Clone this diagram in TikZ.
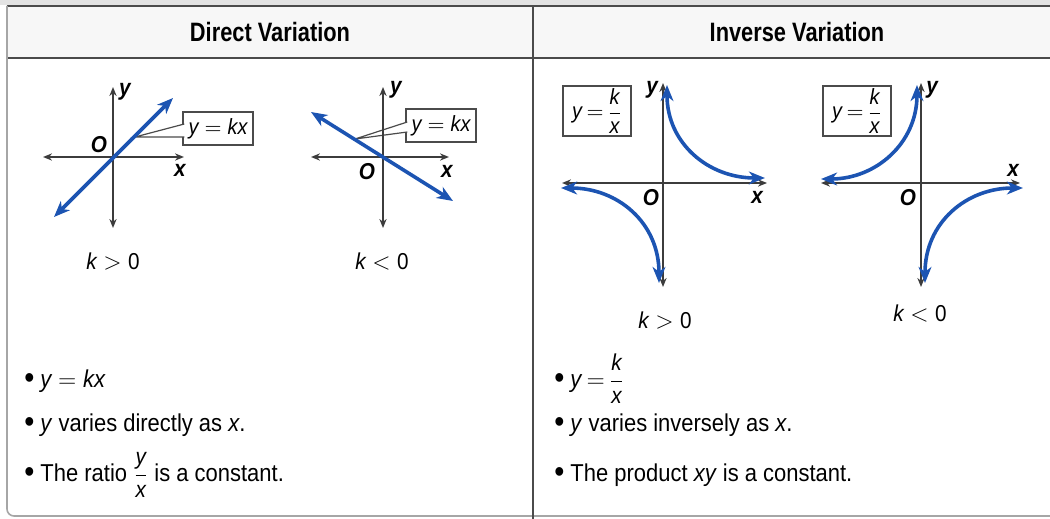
\documentclass[tikz,border=0pt]{standalone}
\usepackage{amsmath}
\usepackage{fontspec}
\setmainfont{Liberation Sans}[FakeStretch=0.9]
\newfontfamily\headfont{Liberation Sans}[FakeStretch=0.82]
\usetikzlibrary{arrows.meta, positioning, calc}
\definecolor{lineblue}{RGB}{28,84,178}
\definecolor{axisgray}{RGB}{60,60,60}
\definecolor{framegray}{RGB}{75,75,75}
\newcommand{\itemdot}{{\fontsize{16}{16}\selectfont\raisebox{-0.6pt}{\textbullet}}\hspace{3pt}}
\newcommand{\frc}[3]{{\fontsize{#1}{#1}\selectfont$\dfrac{\textit{#2}}{\textit{#3}}$}}

\begin{document}
\begin{tikzpicture}[x=0.5pt, y=-0.5pt,
    axis/.style={draw=axisgray, line width=0.9pt, <->, >={Stealth[length=4.5pt,width=3.6pt]}},
    curve/.style={draw=lineblue, line width=1.8pt, <->, >={Stealth[length=8pt,width=6.4pt,inset=2.4pt]}},
    lab/.style={font=\fontsize{11.5}{13}\selectfont\bfseries\itshape, inner sep=0pt},
    eqbox/.style={draw=framegray, line width=0.7pt, fill=white, minimum width=35pt, minimum height=16.5pt, inner sep=1pt, font=\fontsize{11}{13}\selectfont},
    pointer/.style={draw=framegray, line width=0.6pt, fill=white},
    kcase/.style={font=\fontsize{11.5}{13}\selectfont},
    head/.style={font=\headfont\fontsize{13.3}{16}\selectfont\bfseries},
    item/.style={font=\fontsize{12.2}{14}\selectfont, inner sep=0pt, anchor=base west},
    frame/.style={draw=framegray, line width=0.8pt}]
  \useasboundingbox (0,0) rectangle (1050,519);

  % frame and header row
  \fill[gray!22] (0,0) rectangle (1050,5);
  \fill[gray!6] (7,6) rectangle (1050,58);
  \draw[frame, line width=1pt] (7,6) -- (1050,6);
  \draw[frame, line width=1pt] (7,58) -- (1050,58);
  \draw[frame, draw=gray!70, rounded corners=3.5pt] (7,6) -- (7,516) -- (1050,516);
  \draw[frame] (533,6) -- (533,519);
  \node (hdirect) [head] at (270,32) {Direct Variation};
  \node (hinverse) [head] at (797,32) {Inverse Variation};

  % direct, k > 0
  \begin{scope}[shift={(113,157)}]
    \node (box1) [eqbox] at (105,-28.5) {$\textit{y} = \textit{kx}$};
    \coordinate (tip1) at (22,-20);
    \path[pointer] ($(box1.west)+(2,-4.5)$) -- (tip1) -- ($(box1.west)+(2,8.5)$);
    \draw[axis] (-70,0) -- (71,0);
    \draw[axis] (0,-70) -- (0,71);
    \draw[curve] (-59,60) -- (60,-59);
    \node (o1) [lab] at (-14,-12) {O};
    \node (y1) [lab] at (12,-65) {y};
    \node (x1) [lab] at (67,13) {x};
    \node (k1) [kcase] at (0,104) {$\textit{k} > \mbox{0}$};
  \end{scope}

  % direct, k < 0
  \begin{scope}[shift={(383,157)}]
    \node (box2) [eqbox] at (58,-31.5) {$\textit{y} = \textit{kx}$};
    \coordinate (tip2) at (-28,-18);
    \path[pointer] ($(box2.west)+(2,-3.5)$) -- (tip2) -- ($(box2.west)+(2,6.5)$);
    \draw[axis] (-72,0) -- (66,0);
    \draw[axis] (0,-70) -- (0,71);
    \draw[curve] (-72,-45) -- (70,44);
    \node (o2) [lab] at (-16,15) {O};
    \node (y2) [lab] at (13,-67) {y};
    \node (x2) [lab] at (64,14) {x};
    \node (k2) [kcase] at (-1,104) {$\textit{k} < \mbox{0}$};
  \end{scope}

  % inverse, k > 0
  \begin{scope}[shift={(663,183)}]
    \node (box3) [eqbox, minimum width=34pt, minimum height=25pt] at (-66,-72) {\textit{y}\,$=$\,\frc{11}{k}{x}};
    \draw[axis] (-101,0) -- (104,0);
    \draw[axis] (0,-100) -- (0,104);
    \draw[curve] (4,-98) .. controls (4,-40) and (45,-5) .. (102,-5);
    \draw[curve] (-102,5) .. controls (-45,5) and (-4,40) .. (-4,100);
    \node (o3) [lab] at (-12,15) {O};
    \node (y3) [lab] at (-11,-93) {y};
    \node (x3) [lab] at (94,14) {x};
    \node (k3) [kcase] at (2,137) {$\textit{k} > \mbox{0}$};
  \end{scope}

  % inverse, k < 0
  \begin{scope}[shift={(921,183)}]
    \node (box4) [eqbox, minimum width=34pt, minimum height=25pt] at (-64,-72) {\textit{y}\,$=$\,\frc{11}{k}{x}};
    \draw[axis] (-100,0) -- (99,0);
    \draw[axis] (0,-100) -- (0,104);
    \draw[curve] (-4,-98) .. controls (-4,-40) and (-45,-4) .. (-100,-4);
    \draw[curve] (102,5) .. controls (45,5) and (4,40) .. (4,100);
    \node (o4) [lab] at (-13,15) {O};
    \node (y4) [lab] at (11,-93) {y};
    \node (x4) [lab] at (92,-13) {x};
    \node (k4) [kcase] at (-1,130) {$\textit{k} < \mbox{0}$};
  \end{scope}

  % properties
  \node (d1) [item] at (24,387) {\itemdot$\textit{y} = \textit{kx}$};
  \node (d2) [item, below=22pt of d1.base west, anchor=base west] {\itemdot\textit{y} varies directly as \textit{x}.};
  \node (d3) [item, below=25pt of d2.base west, anchor=base west] {\itemdot The ratio \frc{11.5}{y}{x} is a constant.};
  \node (i1) [item] at (554,387) {\itemdot\textit{y}\,$=$\,\frc{11.5}{k}{x}};
  \node (i2) [item, below=22pt of i1.base west, anchor=base west] {\itemdot\textit{y} varies inversely as \textit{x}.};
  \node (i3) [item, below=25pt of i2.base west, anchor=base west] {\itemdot The product \textit{xy} is a constant.};
\end{tikzpicture}
\end{document}
